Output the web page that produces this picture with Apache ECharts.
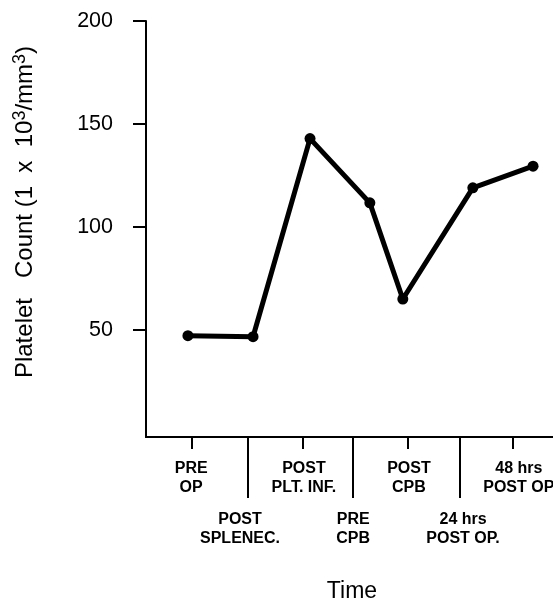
<!DOCTYPE html>
<html>
<head>
<meta charset="utf-8">
<script src="https://cdn.jsdelivr.net/npm/echarts@6/dist/echarts.min.js"></script>
<style>html,body{margin:0;padding:0;background:#fff;}#c{width:553px;height:603px;}</style>
</head>
<body>
<div id="c"></div>
<script>
// Data (x = position along the time axis, arbitrary units 0-100)
const timeX = [10.3, 26.3, 40.3, 55.0, 63.1, 80.3, 95.1];
const plateletCount = [47.2, 46.7, 142.9, 111.7, 65.0, 119.0, 129.5];
const yTicks = [50, 100, 150, 200];
const upperLabels = ['PRE\nOP', 'POST\nPLT. INF.', 'POST\nCPB', '48 hrs\nPOST OP'];
const upperLabelX = [11.1, 38.8, 64.6, 91.6];
const upperTickX = [11.2, 38.5, 64.4, 90.1];
const lowerLabels = ['POST\nSPLENEC.', 'PRE\nCPB', '24 hrs\nPOST OP.'];
const lowerLabelX = [23.1, 50.9, 77.9];
const lowerTickX = [25.1, 50.8, 77.0];
const yTitle = 'Platelet   Count (1  x  10{s|3}/mm{s|3})';
const xTitle = 'Time';

const FONT = '"Liberation Sans", Arial, Helvetica, sans-serif';
const chart = echarts.init(document.getElementById('c'), null, {renderer: 'canvas'});
function lookup(xs, labels) {
  return function (v) {
    for (let i = 0; i < xs.length; i++) if (Math.abs(xs[i] - v) < 1e-6) return labels[i];
    return '';
  };
}
const baseX = {
  type: 'value', min: 0, max: 100, position: 'bottom',
  splitLine: {show: false},
  axisLine: {show: true, onZero: false, lineStyle: {color: '#000', width: 2}},
};
chart.setOption({
  animation: false,
  backgroundColor: '#fff',
  grid: {left: 146, right: 0, top: 21, bottom: 166, containLabel: false, outerBoundsMode: 'none'},
  xAxis: [
    Object.assign({}, baseX, {
      axisTick: {show: true, customValues: upperTickX, length: 12, inside: false, lineStyle: {color: '#000', width: 2}},
      axisLabel: {show: true, customValues: upperLabelX, formatter: lookup(upperLabelX, upperLabels),
        margin: 22, color: '#000', fontFamily: FONT, fontWeight: 'bold', fontSize: 16, lineHeight: 19, align: 'center',
        hideOverlap: false}
    }),
    Object.assign({}, baseX, {
      axisTick: {show: true, customValues: lowerTickX, length: 61, inside: false, lineStyle: {color: '#000', width: 2}},
      axisLabel: {show: true, customValues: lowerLabelX, formatter: lookup(lowerLabelX, lowerLabels),
        margin: 73, color: '#000', fontFamily: FONT, fontWeight: 'bold', fontSize: 16, lineHeight: 19, align: 'center'}
    })
  ],
  yAxis: {
    type: 'value', min: -2, max: 200,
    splitLine: {show: false},
    axisLine: {show: true, lineStyle: {color: '#000', width: 2}},
    axisTick: {show: true, customValues: yTicks, length: 13, inside: false, lineStyle: {color: '#000', width: 2}},
    axisLabel: {show: true, customValues: yTicks, margin: 33, color: '#000', fontFamily: FONT, fontSize: 21.5}
  },
  graphic: [
    {type: 'text', x: 25, y: 212, rotation: Math.PI / 2,
      style: {text: yTitle, fill: '#000', fontFamily: FONT, fontSize: 24, lineHeight: 28,
        align: 'center', verticalAlign: 'middle',
        rich: {s: {fontSize: 18, fontFamily: FONT, fill: '#000', verticalAlign: 'top', lineHeight: 28}}}},
    {type: 'text', x: 352, y: 592,
      style: {text: xTitle, fill: '#000', font: '23px ' + FONT, align: 'center', verticalAlign: 'middle'}}
  ],
  series: [{
    type: 'line',
    xAxisIndex: 0,
    data: timeX.map((x, i) => [x, plateletCount[i]]),
    symbol: 'circle', symbolSize: 11,
    lineStyle: {color: '#000', width: 5},
    itemStyle: {color: '#000'},
    clip: false
  }]
});
</script>
</body>
</html>
